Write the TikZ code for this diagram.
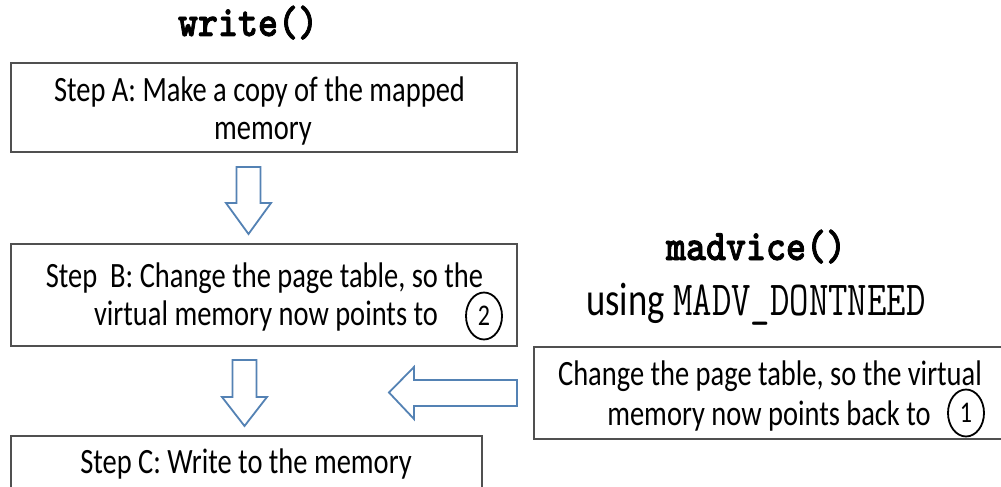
\documentclass[tikz,border=0pt]{standalone}
\usepackage{fontspec}
\usepackage{graphicx}
\setmainfont{Carlito}
\newfontfamily\boxfont[FakeStretch=0.8]{Carlito}
\newfontfamily\usingfont[FakeStretch=0.78]{Carlito}
\newfontfamily\monobold[FakeStretch=0.87,FakeBold=1.8]{lmmonolt10-bold.otf}
\usetikzlibrary{shapes.geometric}
\definecolor{arrowblue}{RGB}{84,130,180}
\definecolor{boxgray}{RGB}{80,80,80}
\newcommand\codetitle[1]{{\fontsize{43.8}{45}\monobold #1}}
\newcommand\codetall[1]{\scalebox{1}[1.3]{\fontsize{37.7}{40}\ttfamily #1}}
\begin{document}
\begin{tikzpicture}[x=1pt,y=-1pt,
  box/.style={draw=boxgray, line width=1.4pt, fill=white, inner sep=0pt},
  txt/.style={anchor=base, inner sep=0pt, font=\fontsize{35.6}{40}\boxfont},
  num/.style={draw=black, line width=1.8pt, ellipse, minimum width=36pt, minimum height=47pt, inner sep=0pt, font=\fontsize{30}{30}\boxfont},
  title/.style={anchor=base, inner sep=0pt},
  blockarrow/.style={draw=arrowblue, line width=1.8pt, fill=white, line join=miter}]
\useasboundingbox (0,0) rectangle (1001,487);
\clip (0,0) rectangle (1001,487);
\fill[white] (0,0) rectangle (1001,487);

% boxes
\node[box, minimum width=506pt, minimum height=89pt] (A) at (264,107.5) {};
\node[box, minimum width=506pt, minimum height=102pt] (B) at (264,295) {};
\node[box, minimum width=471pt, minimum height=64pt] (C) at (246.5,468) {};
\node[box, minimum width=481pt, minimum height=92pt] (D) at (774.5,393) {};

% titles
\node[title] (tw) at (248,36) {\codetitle{write()}};
\node[title] (tm) at (756,260) {\codetitle{madvice()}};
\node[title] (tu) at (756,315) {{\fontsize{47}{50}\usingfont using }\codetall{MADV\_DONTNEED}};

% texts
\node[txt] (a1) at (259.5,101) {Step A: Make a copy of the mapped};
\node[txt] (a2) at (263,139) {memory};
\node[txt] (b1) at (264.5,287) {Step\ \ B: Change the page table, so the};
\node[txt] (b2) at (266,325) {virtual memory now points to};
\node[num] (n2) at (484,316) {2};
\node[txt] (c1) at (246,473) {Step C: Write to the memory};
\node[txt] (d1) at (770,385) {Change the page table, so the virtual};
\node[txt] (d2) at (769,425) {memory now points back to};
\node[num] (n1) at (966,413) {1};

% block arrows
\draw[blockarrow] (236.5,167) -- (260.5,167) -- (260.5,203) -- (271,203) -- (248.5,234) -- (226,203) -- (236.5,203) -- cycle;
\draw[blockarrow] (232.5,360) -- (256.5,360) -- (256.5,397) -- (267,397) -- (244.5,426) -- (222,397) -- (232.5,397) -- cycle;
\draw[blockarrow] (517,380) -- (517,406) -- (414,406) -- (414,419) -- (389,392.5) -- (414,367) -- (414,380) -- cycle;
\end{tikzpicture}
\end{document}
